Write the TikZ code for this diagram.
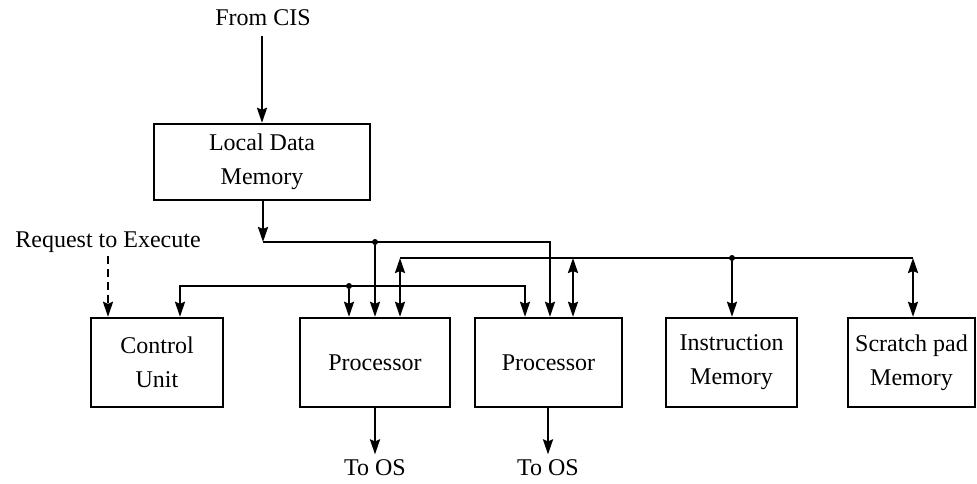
\documentclass[tikz,border=0pt]{standalone}
\usepackage{fontspec}
\setmainfont{Liberation Serif}
\usetikzlibrary{arrows.meta}

\tikzset{
  unit/.style={draw, line width=2.4pt, align=center, inner sep=0pt, minimum height=89pt},
  bus/.style={line width=2.2pt},
  flow/.style={bus, -{Stealth[length=15pt,width=10pt,inset=2pt]}},
  twoway/.style={bus, {Stealth[length=15pt,width=10pt,inset=2pt]}-{Stealth[length=15pt,width=10pt,inset=2pt]}},
  tap/.style={circle, fill, inner sep=0pt, minimum size=6pt},
}

\begin{document}
\begin{tikzpicture}[x=1pt, y=-1pt, font=\fontsize{24}{34}\selectfont]
  \useasboundingbox (0,0) rectangle (977,483);

  % Local data memory fed from the CIS
  \node (cis) at (263,18) {From CIS};
  \node[unit, minimum width=216pt, minimum height=76pt] (ldm) at (262,162) {Local Data\\Memory};
  \draw[flow] ([yshift=-6pt]cis.south -| ldm.north) -- (ldm.north);

  % Units on the buses
  \node[unit, minimum width=132pt] (cu) at (157,362.5) {Control\\Unit};
  \node[unit, minimum width=150pt] (p1) at (375,362.5) {Processor};
  \node[unit, minimum width=147pt] (p2) at (548.5,362.5) {Processor};
  \node[unit, minimum width=131pt] (im) at (731.5,362.5) {Instruction\\Memory};
  \node[unit, minimum width=127pt] (sp) at (911.5,362.5) {Scratch pad\\Memory};

  % Data bus from local data memory
  \coordinate (c1) at (263,242);
  \coordinate (c2) at (550,242);
  \node[tap] (t1) at (375,242) {};
  \draw[flow] (c1 |- ldm.south) -- (c1);
  \draw[flow] (c1) -- (c2) -- (c2 |- p2.north);
  \draw[flow] (t1) -- (t1 |- p1.north);

  % Control bus
  \coordinate (m1) at (180,286);
  \coordinate (m2) at (525,286);
  \node[tap] (t2) at (349,286) {};
  \draw[twoway] (m1 |- cu.north) -- (m1) -- (m2) -- (m2 |- p2.north);
  \draw[flow] (t2) -- (t2 |- p1.north);

  % Memory bus
  \coordinate (b1) at (400,258);
  \coordinate (b2) at (913,258);
  \coordinate (j3) at (573,258);
  \node[tap] (t3) at (732,258) {};
  \draw[bus] (b1) -- (b2);
  \draw[twoway] (p1.north -| b1) -- (b1);
  \draw[twoway] (j3) -- (j3 |- p2.north);
  \draw[flow] (t3) -- (t3 |- im.north);
  \draw[twoway] (b2) -- (b2 |- sp.north);

  % Request into the control unit
  \node (req) at (108,242) {Request to Execute};
  \draw[flow, dash pattern=on 8pt off 5pt] (req.south) -- (req.south |- cu.north);

  % Outputs to the OS
  \node (os1) at (375,468) {To OS};
  \node (os2) at (548,468) {To OS};
  \draw[flow] (p1.south) -- ([yshift=2pt]os1.north);
  \draw[flow] (p2.south -| os2) -- ([yshift=2pt]os2.north);
\end{tikzpicture}
\end{document}
